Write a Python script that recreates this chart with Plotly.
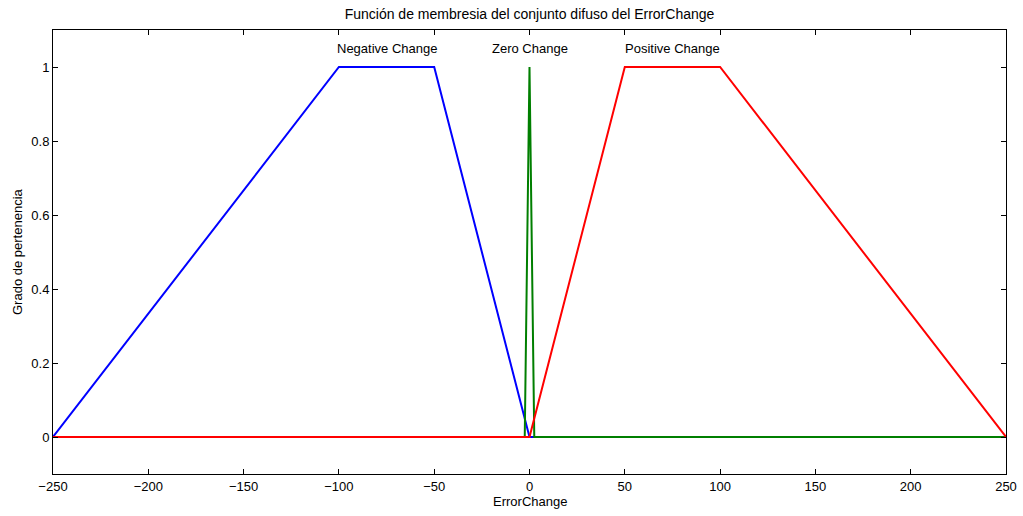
import plotly.graph_objects as go

# Membership function breakpoints
neg_x = [-250, -100, -50, 0, 250]
neg_y = [0, 1, 1, 0, 0]
zero_x = [-250, -2.5, 0, 2.5, 250]
zero_y = [0, 0, 1, 0, 0]
pos_x = [-250, 0, 50, 100, 250]
pos_y = [0, 0, 1, 1, 0]

labels = ["Negative Change", "Zero Change", "Positive Change"]
label_x = [-75, 0, 75]
label_y = [1.05, 1.05, 1.05]

x_ticks = [-250, -200, -150, -100, -50, 0, 50, 100, 150, 200, 250]
y_ticks = [0, 0.2, 0.4, 0.6, 0.8, 1]
y_ticktext = ["0", "0.2", "0.4", "0.6", "0.8", "1"]

FONT = "Liberation Sans, Arial, sans-serif"

fig = go.Figure()
fig.add_trace(go.Scatter(x=neg_x, y=neg_y, mode="lines",
                         line=dict(color="#0000FF", width=2), name=labels[0]))
fig.add_trace(go.Scatter(x=zero_x, y=zero_y, mode="lines",
                         line=dict(color="#007F00", width=2), name=labels[1]))
fig.add_trace(go.Scatter(x=pos_x, y=pos_y, mode="lines",
                         line=dict(color="#FF0000", width=2), name=labels[2]))

for lx, ly, lt in zip(label_x, label_y, labels):
    fig.add_annotation(x=lx, y=ly, text=lt, showarrow=False, xref="x", yref="y",
                       font=dict(family=FONT, size=13, color="black"),
                       xanchor="center", yanchor="middle")

fig.add_annotation(x=0.5, y=0, xref="paper", yref="paper", text="ErrorChange",
                   showarrow=False, yshift=-27, yanchor="middle",
                   font=dict(family=FONT, size=13, color="black"))
fig.add_annotation(x=0, y=0.5, xref="paper", yref="paper", text="Grado de pertenencia",
                   showarrow=False, xshift=-36, textangle=-90, xanchor="center",
                   font=dict(family=FONT, size=13, color="black"))

fig.update_layout(
    width=1023, height=516,
    margin=dict(l=53, r=17, t=30, b=42),
    paper_bgcolor="white", plot_bgcolor="white",
    showlegend=False,
    title=dict(text="Función de membresia del conjunto difuso del ErrorChange",
               x=0.5, xref="paper", xanchor="center", y=1 - 14 / 516, yanchor="middle",
               font=dict(family=FONT, size=14, color="black")),
    font=dict(family=FONT, size=13, color="black"),
)
fig.update_xaxes(range=[-250, 250], tickvals=x_ticks,
                 ticktext=[str(v).replace("-", "\u2212") for v in x_ticks],
                 ticks="inside", ticklen=5, tickcolor="black",
                 showline=True, linecolor="black", linewidth=1, mirror="ticks",
                 showgrid=False, zeroline=False, automargin=False,
                 ticklabeloverflow="allow",
                 tickfont=dict(family=FONT, size=13, color="black"))
fig.update_yaxes(range=[-0.1, 1.1], tickvals=y_ticks, ticktext=y_ticktext,
                 ticks="inside", ticklen=5, tickcolor="black",
                 showline=True, linecolor="black", linewidth=1, mirror="ticks",
                 showgrid=False, zeroline=False, automargin=False,
                 tickfont=dict(family=FONT, size=13, color="black"))

fig.write_html("out.html")
